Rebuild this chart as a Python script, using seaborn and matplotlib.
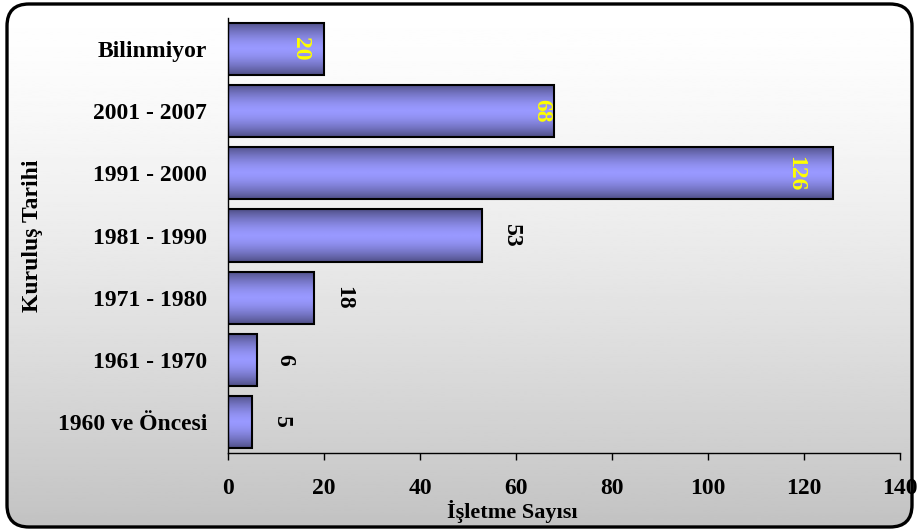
import numpy as np
import matplotlib
matplotlib.use("Agg")
import matplotlib.pyplot as plt
import seaborn as sns
from matplotlib.patches import FancyBboxPatch
from matplotlib.colors import LinearSegmentedColormap

# data
categories = ['Bilinmiyor', '2001 - 2007', '1991 - 2000', '1981 - 1990',
              '1971 - 1980', '1961 - 1970', '1960 ve Öncesi']
values = [20, 68, 126, 53, 18, 6, 5]
x_ticks = [0, 20, 40, 60, 80, 100, 120, 140]

# label style: inside bar end in yellow / outside in black, offsets in pixels
label_inside = [True, True, True, False, False, False, False]
label_offset = [-23, -13, -37, 29, 29, 28, 29]

sns.set_theme(style='white')
plt.rcParams['font.family'] = ['Liberation Serif', 'DejaVu Serif']
plt.rcParams['font.weight'] = 'bold'

W, H = 919, 531
fig = plt.figure(figsize=(W / 100, H / 100), dpi=100)

# background with rounded frame and vertical gradient
bg = fig.add_axes([0, 0, 1, 1])
bg.set_xlim(0, W)
bg.set_ylim(0, H)
bg.axis('off')
frame = FancyBboxPatch((7, 4), W - 14, H - 8, boxstyle='round,pad=0,rounding_size=22',
                       facecolor='none', edgecolor='black', lw=2.4, zorder=3)
bg.add_patch(frame)
grad = np.linspace(0, 1, 256)[:, None]
grad = 1 - 0.24 * grad ** 1.4
img = bg.imshow(grad, cmap='gray', vmin=0, vmax=1, aspect='auto',
                extent=(0, W, 0, H), origin='upper', zorder=1)
img.set_clip_path(frame)

ax = fig.add_axes([228 / W, (H - 453) / H, 672 / W, 435 / H])
ax.patch.set_alpha(0)

df = {'Kuruluş Tarihi': categories, 'İşletme Sayısı': values}
sns.barplot(data=df, y='Kuruluş Tarihi', x='İşletme Sayısı', orient='h',
            width=0.84, color='#9999ff', edgecolor='black', linewidth=1.5, ax=ax)

ax.set_xlim(0, 140)
ax.set_ylim(6.5, -0.5)

# gradient fill for bars
bar_grad = np.abs(np.linspace(-1, 1, 128))[:, None] ** 1.6
bar_cmap = LinearSegmentedColormap.from_list('bar', ['#9999ff', '#4f4f86'])
for p in ax.patches:
    x0, y0 = p.get_x(), p.get_y()
    w, h = p.get_width(), p.get_height()
    im = ax.imshow(bar_grad, cmap=bar_cmap, vmin=0, vmax=1, aspect='auto',
                   extent=(x0, x0 + w, y0 + h, y0), zorder=1.5)
    im.set_clip_path(p)
    p.set_facecolor('none')
    p.set_zorder(2)

# value labels
for i, (v, inside, off) in enumerate(zip(values, label_inside, label_offset)):
    ax.annotate(str(v), (v, i), xytext=(off, 0), textcoords='offset pixels',
                rotation=270, ha='center', va='center',
                color='#ffff00' if inside else 'black',
                fontsize=17, fontweight='bold', zorder=3)

ax.set_xticks(x_ticks)
ax.set_xticklabels([str(t) for t in x_ticks])
for s in ['top', 'right']:
    ax.spines[s].set_visible(False)
for s in ['left', 'bottom']:
    ax.spines[s].set_color('black')
    ax.spines[s].set_linewidth(1.0)
ax.tick_params(axis='x', bottom=True, length=5, width=1, color='black',
               direction='out', pad=13, labelsize=17, labelcolor='black')
ax.tick_params(axis='y', left=False, pad=9, labelsize=17, labelcolor='black')
for t in ax.get_xticklabels() + ax.get_yticklabels():
    t.set_fontweight('bold')

ax.set_xlabel('İşletme Sayısı', fontsize=16, fontweight='bold', color='black')
ax.set_ylabel('Kuruluş Tarihi', fontsize=17, fontweight='bold', color='black')
ax.xaxis.set_label_coords(0.423, -0.108)
ax.yaxis.set_label_coords(-0.275, 0.5)

fig.savefig('out.png', dpi=100)
